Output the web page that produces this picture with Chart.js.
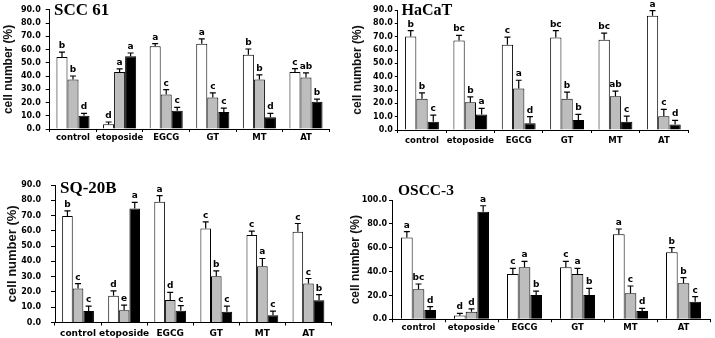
<!DOCTYPE html>
<html>
<head>
<meta charset="utf-8">
<script src="https://cdn.jsdelivr.net/npm/chart.js@4.4.1/dist/chart.umd.min.js"></script>
<style>
  html, body { margin: 0; padding: 0; background: #fff; }
  body { width: 715px; height: 338px; position: relative; overflow: hidden; }
  canvas { position: absolute; }
</style>
</head>
<body>
<canvas id="c1"></canvas>
<canvas id="c2"></canvas>
<canvas id="c3"></canvas>
<canvas id="c4"></canvas>
<script>
// categories shared by the four panels
const categories = ['control', 'etoposide', 'EGCG', 'GT', 'MT', 'AT'];

// SCC 61
const scc61White = [54.4, 3.5, 62.4, 64.4, 56.0, 43.0];
const scc61WhiteSd = [3.6, 1.8, 2.0, 3.6, 4.4, 2.6];
const scc61WhiteSig = ['b', 'd', 'a', 'a', 'b', 'c'];
const scc61Gray = [37.3, 43.0, 26.0, 23.8, 37.3, 38.8];
const scc61GraySd = [2.7, 2.4, 3.8, 3.5, 3.5, 3.6];
const scc61GraySig = ['b', 'a', 'c', 'c', 'b', 'ab'];
const scc61Black = [10.0, 55.0, 13.8, 12.8, 8.8, 20.5];
const scc61BlackSd = [1.8, 2.4, 2.5, 3.0, 3.0, 2.1];
const scc61BlackSig = ['d', 'a', 'c', 'c', 'd', 'b'];

// HaCaT
const hacatWhite = [70.1, 67.2, 63.9, 69.4, 67.7, 85.6];
const hacatWhiteSd = [4.5, 3.7, 5.8, 5.2, 4.9, 4.0];
const hacatWhiteSig = ['b', 'bc', 'c', 'bc', 'bc', 'a'];
const hacatGray = [23.4, 20.9, 31.1, 23.4, 25.4, 10.4];
const hacatGraySd = [4.5, 4.0, 6.2, 5.0, 3.7, 5.0];
const hacatGraySig = ['b', 'b', 'a', 'b', 'ab', 'c'];
const hacatBlack = [6.2, 11.7, 5.0, 7.5, 6.2, 4.2];
const hacatBlackSd = [5.0, 4.5, 5.0, 4.2, 4.2, 3.0];
const hacatBlackSig = ['c', 'a', 'd', 'b', 'c', 'd'];

// SQ-20B
const sq20bWhite = [69.7, 17.5, 79.0, 61.6, 57.2, 59.4];
const sq20bWhiteSd = [3.4, 3.2, 4.0, 4.3, 2.6, 5.4];
const sq20bWhiteSig = ['b', 'd', 'a', 'c', 'c', 'c'];
const sq20bGray = [22.3, 8.1, 14.8, 30.3, 36.9, 25.5];
const sq20bGraySd = [3.2, 3.3, 4.9, 3.5, 5.0, 3.3];
const sq20bGraySig = ['c', 'e', 'd', 'b', 'a', 'c'];
const sq20bBlack = [7.6, 74.7, 7.7, 7.0, 4.8, 14.6];
const sq20bBlackSd = [3.1, 3.9, 3.4, 3.7, 2.6, 3.7];
const sq20bBlackSig = ['c', 'a', 'c', 'c', 'c', 'b'];

// OSCC-3
const oscc3White = [68.5, 3.1, 38.0, 43.6, 71.2, 56.1];
const oscc3WhiteSd = [5.0, 1.9, 4.7, 5.0, 4.5, 3.9];
const oscc3WhiteSig = ['a', 'd', 'c', 'c', 'a', 'b'];
const oscc3Gray = [25.1, 6.4, 43.6, 38.0, 21.8, 30.2];
const oscc3GraySd = [4.5, 2.3, 5.0, 4.7, 6.1, 4.7];
const oscc3GraySig = ['bc', 'd', 'a', 'a', 'c', 'b'];
const oscc3Black = [7.8, 90.2, 20.4, 20.4, 7.0, 14.8];
const oscc3BlackSd = [2.8, 5.0, 3.3, 5.6, 2.2, 4.2];
const oscc3BlackSig = ['d', 'a', 'b', 'b', 'd', 'c'];

const FILLS = ['#ffffff', '#bdbdbd', '#000000'];

Chart.defaults.font.family = '"DejaVu Sans", sans-serif';
Chart.defaults.color = '#000';

// error bars (upper half only) plus the significance letters
const errorBarPlugin = {
    id: 'errorBars',
    afterDatasetsDraw(chart) {
        const ctx = chart.ctx;
        const yScale = chart.scales.y;
        ctx.save();
        chart.data.datasets.forEach((ds, di) => {
            const meta = chart.getDatasetMeta(di);
            meta.data.forEach((bar, i) => {
                const yTop = yScale.getPixelForValue(ds.data[i] + ds.sd[i]);
                ctx.strokeStyle = '#000';
                ctx.lineWidth = 1.2;
                ctx.beginPath();
                ctx.moveTo(bar.x, bar.y);
                ctx.lineTo(bar.x, yTop);
                ctx.moveTo(bar.x - 3, yTop);
                ctx.lineTo(bar.x + 3, yTop);
                ctx.stroke();
                ctx.fillStyle = '#000';
                ctx.font = 'bold 9px "DejaVu Sans"';
                ctx.textAlign = 'center';
                ctx.textBaseline = 'alphabetic';
                ctx.fillText(ds.sig[i], bar.x, yTop - 4);
            });
        });
        ctx.restore();
    }
};

// panel name written over the top-left of the plot
const panelTitlePlugin = {
    id: 'panelTitle',
    afterDraw(chart, args, opts) {
        const ctx = chart.ctx;
        ctx.save();
        ctx.fillStyle = '#000';
        ctx.font = 'bold ' + opts.size + 'px "Liberation Serif"';
        ctx.textAlign = 'left';
        ctx.textBaseline = 'alphabetic';
        ctx.fillText(opts.text, opts.x, opts.y);
        ctx.restore();
    }
};

function makeDataset(label, data, sd, sig, idx) {
    return {
        label: label,
        data: data,
        sd: sd,
        sig: sig,
        backgroundColor: FILLS[idx],
        borderColor: '#000',
        borderWidth: 1,
        barPercentage: 1.0
    };
}

function renderPanel(p) {
    const canvas = document.getElementById(p.id);
    canvas.width = p.W;
    canvas.height = p.H;
    canvas.style.left = p.L + 'px';
    canvas.style.top = p.T + 'px';

    return new Chart(canvas, {
        type: 'bar',
        data: {
            labels: categories,
            datasets: [
                makeDataset('white', p.series[0], p.sd[0], p.sig[0], 0),
                makeDataset('gray', p.series[1], p.sd[1], p.sig[1], 1),
                makeDataset('black', p.series[2], p.sd[2], p.sig[2], 2)
            ]
        },
        options: {
            responsive: false,
            animation: false,
            datasets: { bar: { categoryPercentage: p.catPct, barPercentage: 1.0 } },
            layout: {
                padding: { top: p.plotTop - p.T, right: p.L + p.W - p.plotRight, left: 0, bottom: 0 }
            },
            plugins: {
                legend: { display: false },
                tooltip: { enabled: false },
                panelTitle: { text: p.title, x: p.titleX - p.L, y: p.titleY - p.T, size: p.titleSize }
            },
            scales: {
                x: {
                    offset: true,
                    grid: { offset: true, drawOnChartArea: false, drawTicks: true, tickLength: 3, color: '#000' },
                    border: { color: '#000', width: 1 },
                    ticks: {
                        autoSkip: false, maxRotation: 0, minRotation: 0,
                        padding: p.xPad, color: '#000',
                        font: { size: p.xFont, weight: 'bold' }
                    },
                    afterFit: (s) => { s.height = p.T + p.H - p.plotBottom; }
                },
                y: {
                    min: 0,
                    max: p.yMax,
                    grid: { drawOnChartArea: false, drawTicks: true, tickLength: p.yTickLen, color: '#000' },
                    border: { color: '#000', width: 1 },
                    ticks: {
                        stepSize: 10, padding: p.yPad, color: '#000',
                        font: { size: 8, weight: 'bold' },
                        callback: (v) => v.toFixed(1)
                    },
                    title: {
                        display: true,
                        text: 'cell number (%)',
                        color: '#111',
                        padding: 0,
                        font: { family: '"Liberation Sans"', size: p.yTitleSize, weight: 'bold', lineHeight: 1.2 }
                    },
                    afterFit: (s) => { s.width = p.plotLeft - p.L; }
                }
            }
        },
        plugins: [errorBarPlugin, panelTitlePlugin]
    });
}

document.addEventListener('DOMContentLoaded', function() {
    renderPanel({
        id: 'c1', L: 1, T: 0, W: 344, H: 145,
        plotLeft: 49.7, plotRight: 329.3, plotTop: 9.5, plotBottom: 129,
        yMax: 90, yTickLen: 4, yPad: 5, yTitleSize: 12, xFont: 8.5, xPad: 1, catPct: 0.71,
        title: 'SCC 61', titleX: 54, titleY: 15, titleSize: 17,
        series: [scc61White, scc61Gray, scc61Black],
        sd: [scc61WhiteSd, scc61GraySd, scc61BlackSd],
        sig: [scc61WhiteSig, scc61GraySig, scc61BlackSig]
    });
    renderPanel({
        id: 'c2', L: 350, T: 0, W: 365, H: 148,
        plotLeft: 397.8, plotRight: 688, plotTop: 10, plotBottom: 130,
        yMax: 90, yTickLen: 3, yPad: 2, yTitleSize: 12, xFont: 8.5, xPad: 2.5, catPct: 0.70,
        title: 'HaCaT', titleX: 401.5, titleY: 15, titleSize: 16,
        series: [hacatWhite, hacatGray, hacatBlack],
        sd: [hacatWhiteSd, hacatGraySd, hacatBlackSd],
        sig: [hacatWhiteSig, hacatGraySig, hacatBlackSig]
    });
    renderPanel({
        id: 'c3', L: 5, T: 165, W: 340, H: 173,
        plotLeft: 55, plotRight: 331.5, plotTop: 185, plotBottom: 322.5,
        yMax: 90, yTickLen: 4, yPad: 10, yTitleSize: 13, xFont: 9, xPad: 3, catPct: 0.69,
        title: 'SQ-20B', titleX: 60, titleY: 193, titleSize: 17,
        series: [sq20bWhite, sq20bGray, sq20bBlack],
        sd: [sq20bWhiteSd, sq20bGraySd, sq20bBlackSd],
        sig: [sq20bWhiteSig, sq20bGraySig, sq20bBlackSig]
    });
    renderPanel({
        id: 'c4', L: 348, T: 175, W: 367, H: 163,
        plotLeft: 392, plotRight: 710, plotTop: 200, plotBottom: 319.3,
        yMax: 100, yTickLen: 3, yPad: 2, yTitleSize: 12, xFont: 8.5, xPad: 0.5, catPct: 0.66,
        title: 'OSCC-3', titleX: 398, titleY: 195, titleSize: 15.5,
        series: [oscc3White, oscc3Gray, oscc3Black],
        sd: [oscc3WhiteSd, oscc3GraySd, oscc3BlackSd],
        sig: [oscc3WhiteSig, oscc3GraySig, oscc3BlackSig]
    });
});
</script>
</body>
</html>
